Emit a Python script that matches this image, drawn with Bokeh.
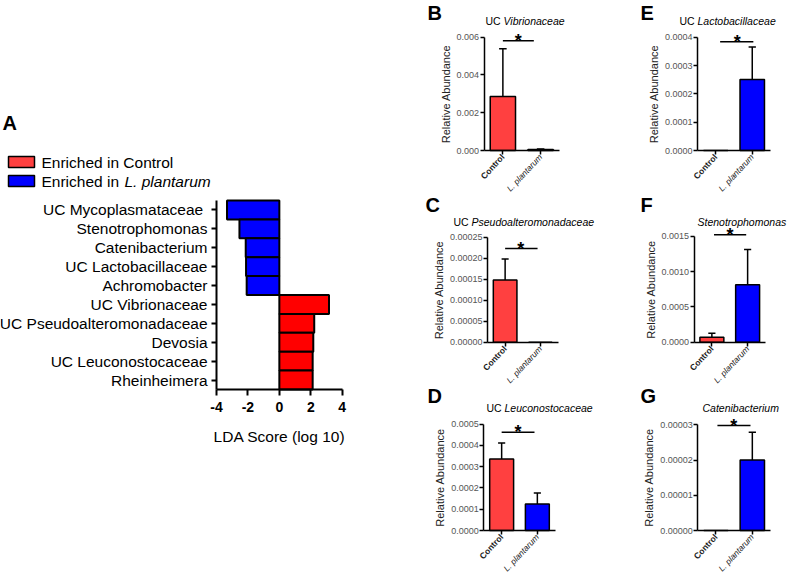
import math
from bokeh.plotting import figure
from bokeh.layouts import row, column
from bokeh.models import (Range1d, FixedTicker, Label, BoxAnnotation, PrintfTickFormatter,
                          LinearAxis)
from bokeh.embed import file_html
from bokeh.resources import INLINE

FONT = "Liberation Sans"

# ---------------- data ----------------
lda_taxa = ["UC Mycoplasmataceae ", "Stenotrophomonas", "Catenibacterium",
            "UC Lactobacillaceae", "Achromobacter", "UC Vibrionaceae",
            "UC Pseudoalteromonadaceae", "Devosia", "UC Leuconostocaceae", "Rheinheimera"]
lda_scores = [-3.33, -2.54, -2.14, -2.12, -2.08, 3.16, 2.22, 2.16, 2.12, 2.12]
lda_ticks = [-4, -2, 0, 2, 4]

groups = ["Control", "L. plantarum"]

vib_mean = [0.00286, 0.00005]
vib_sem = [0.00253, 0.00003]
vib_ticks = [0.0, 0.002, 0.004, 0.006]

pseudo_mean = [0.000148, 0.0]
pseudo_sem = [0.000050, 0.0]
pseudo_ticks = [0.0, 0.00005, 0.00010, 0.00015, 0.00020, 0.00025]

leuco_mean = [0.000336, 0.000125]
leuco_sem = [0.000075, 0.000051]
leuco_ticks = [0.0, 0.0001, 0.0002, 0.0003, 0.0004, 0.0005]

lacto_mean = [0.0, 0.000251]
lacto_sem = [0.0, 0.000114]
lacto_ticks = [0.0, 0.0001, 0.0002, 0.0003, 0.0004]

steno_mean = [0.000071, 0.000813]
steno_sem = [0.000056, 0.000500]
steno_ticks = [0.0, 0.0005, 0.0010, 0.0015]

cateni_mean = [0.0, 0.0000200]
cateni_sem = [0.0, 0.0000079]
cateni_ticks = [0.0, 0.00001, 0.00002, 0.00003]

RED_A = "#FF0000"
RED = "#FF4040"
BLUE = "#0000FF"

BASELINE_FIX = 0.35  # em: lift alphabetic-baseline labels to sit where intended


def make_conv(fl, fr, ft, fb, x0, x1, y_top, y_bot):
    """page pixel -> data coordinate, given where the axes sit on the page"""
    def f(px, py):
        return (x0 + (px - fl) / (fr - fl) * (x1 - x0),
                y_bot + (fb - py) / (fb - ft) * (y_top - y_bot))
    return f


def make_fig(rect, conv):
    fx, fy, fw, fh = rect
    xa0, yb = conv(fx, fy + fh)
    xa1, yt = conv(fx + fw, fy)
    p = figure(width=fw, height=fh, x_range=Range1d(xa0, xa1), y_range=Range1d(yb, yt),
               x_axis_location=None, y_axis_location=None,
               output_backend="svg", toolbar_location=None,
               min_border=0, min_border_left=0, min_border_right=0,
               min_border_top=0, min_border_bottom=0)
    p.outline_line_color = None
    p.xgrid.visible = False
    p.ygrid.visible = False
    p.background_fill_color = "white"
    p.border_fill_color = "white"
    return p


def add_text(p, conv, px, py, text, size, style="normal", color="black", align="left"):
    fs = float(size.replace("px", ""))
    x, y = conv(px, py - BASELINE_FIX * fs)
    p.add_layout(Label(x=x, y=y, text=text, text_font=FONT, text_font_size=size,
                       text_font_style=style, text_color=color, text_align=align,
                       text_baseline="alphabetic"))


# ---------------- panel A ----------------
n = len(lda_taxa)
convA = make_conv(216, 341.7, 200, 389, -4, 4, -0.5, n - 0.5)
pA = make_fig((0, 0, 372, 574), convA)
idx = list(range(n))
colsA = [BLUE if s < 0 else RED_A for s in lda_scores]
pA.hbar(y=idx, left=0, right=lda_scores, height=1.0, fill_color=colsA,
        line_color="black", line_width=2)

xa = LinearAxis(fixed_location=n - 0.5, bounds=(lda_ticks[0], lda_ticks[-1]),
                ticker=FixedTicker(ticks=lda_ticks), formatter=PrintfTickFormatter(format="%d"))
xa.minor_tick_line_color = None
xa.major_tick_out = 6
xa.major_tick_in = 0
xa.major_tick_line_width = 2
xa.axis_line_width = 2
xa.major_label_text_font = FONT
xa.major_label_text_font_size = "14px"
xa.major_label_text_font_style = "bold"
xa.major_label_text_color = "black"
xa.major_label_standoff = 6
xa.axis_label = "LDA Score (log 10)"
xa.axis_label_text_font = FONT
xa.axis_label_text_font_size = "15.5px"
xa.axis_label_text_font_style = "normal"
xa.axis_label_text_color = "black"
xa.axis_label_standoff = 13
pA.add_layout(xa, "below")

ya = LinearAxis(fixed_location=lda_ticks[0], bounds=(-0.5, n - 0.5),
                ticker=FixedTicker(ticks=idx))
ya.major_label_overrides = {i: t for i, t in enumerate(lda_taxa)}
ya.minor_tick_line_color = None
ya.major_tick_out = 5
ya.major_tick_in = 0
ya.major_tick_line_width = 2
ya.axis_line_width = 2
ya.major_label_text_font = FONT
ya.major_label_text_font_size = "15.5px"
ya.major_label_text_color = "black"
ya.major_label_standoff = 4
pA.add_layout(ya, "left")

add_text(pA, convA, 2, 129, "A", "20px", style="bold")
for (top_py, bot_py, col) in [(156, 167, RED), (175, 186, BLUE)]:
    l, t = convA(8, top_py)
    r, b = convA(34, bot_py)
    pA.add_layout(BoxAnnotation(left=l, right=r, top=t, bottom=b, fill_color=col,
                                fill_alpha=1.0, line_color="black", line_width=1.5,
                                line_alpha=1.0))
add_text(pA, convA, 41, 167, "Enriched in Control", "15.5px")
add_text(pA, convA, 41, 186, "Enriched in ", "15.5px")
add_text(pA, convA, 124, 186, "L. plantarum", "15.5px", style="italic")


# ---------------- bar panels ----------------
def bar_panel(rect, ax_px, ymax, ticks, fmt, letter, letter_px, title_parts, title_py,
              means, sems, sig):
    fl, fr, ft, fb = ax_px
    conv = make_conv(fl, fr, ft, fb, -0.5, 1.5, ymax, 0)
    p = make_fig(rect, conv)
    xs = list(range(len(groups)))
    p.vbar(x=xs, bottom=0, top=means, width=0.67, fill_color=[RED, BLUE],
           line_color="black", line_width=1.5)
    ex = [x for x, s in zip(xs, sems) if s > 0]
    em = [m for m, s in zip(means, sems) if s > 0]
    et = [m + s for m, s in zip(means, sems) if s > 0]
    p.segment(x0=ex, y0=em, x1=ex, y1=et, line_color="black", line_width=1.5)
    p.segment(x0=[x - 0.1 for x in ex], y0=et, x1=[x + 0.1 for x in ex], y1=et,
              line_color="black", line_width=1.5)
    sx0, sx1, sy, sxs = sig
    p.segment(x0=[sx0], y0=[sy], x1=[sx1], y1=[sy], line_color="black", line_width=1.5)
    p.add_layout(Label(x=sxs, y=sy, text="*", text_font=FONT, text_font_size="18px",
                       text_font_style="bold", text_align="center", text_color="black",
                       text_baseline="alphabetic", y_offset=0))

    ya = LinearAxis(fixed_location=-0.5, bounds=(0, ymax), ticker=FixedTicker(ticks=ticks),
                    formatter=PrintfTickFormatter(format=fmt))
    ya.minor_tick_line_color = None
    ya.major_tick_out = 4
    ya.major_tick_in = 0
    ya.major_tick_line_width = 1.5
    ya.axis_line_width = 1.5
    ya.major_label_text_font = FONT
    ya.major_label_text_font_size = "9px"
    ya.major_label_text_color = "#555555"
    ya.major_label_standoff = 1
    ya.axis_label = "Relative Abundance"
    ya.axis_label_text_font = FONT
    ya.axis_label_text_font_size = "11px"
    ya.axis_label_text_font_style = "normal"
    ya.axis_label_text_color = "#222222"
    ya.axis_label_standoff = 2
    p.add_layout(ya, "left")

    ang = math.radians(47)
    for i, (g, st) in enumerate(zip(groups, ["bold", "italic"])):
        xa = LinearAxis(fixed_location=0, bounds=(-0.5, 1.5), ticker=FixedTicker(ticks=[xs[i]]))
        xa.major_label_overrides = {xs[i]: g}
        xa.major_label_orientation = ang
        xa.minor_tick_line_color = None
        xa.major_tick_out = 4
        xa.major_tick_in = 0
        xa.major_tick_line_width = 1.5
        xa.axis_line_width = 1.5
        if i > 0:
            xa.axis_line_color = None
        xa.major_label_text_font = FONT
        xa.major_label_text_font_size = "8.5px"
        xa.major_label_text_font_style = st
        xa.major_label_text_color = "#1a1a1a"
        xa.major_label_standoff = 1
        p.add_layout(xa, "below")

    lx, ly = letter_px
    add_text(p, conv, lx, ly, letter, "20px", style="bold")
    for (txt, st, px) in title_parts:
        add_text(p, conv, px, title_py, txt, "10.5px", style=st)
    return p


COL2 = (372, 228)
COL3 = (600, 187)
ROWS = [(0, 194), (194, 192), (386, 188)]

pB = bar_panel((COL2[0], ROWS[0][0], COL2[1], ROWS[0][1]), (483.5, 559, 36.7, 150), 0.006,
               vib_ticks, "%.3f", "B", (427, 19.3),
               [("UC ", "normal", 485), ("Vibrionaceae", "italic", 503)], 24,
               vib_mean, vib_sem, (0.0, 0.82, 0.00581, 0.41))
pC = bar_panel((COL2[0], ROWS[1][0], COL2[1], ROWS[1][1]), (487, 557.5, 236.7, 341.7), 0.00025,
               pseudo_ticks, "%.5f", "C", (425, 211.7),
               [("UC ", "normal", 453), ("Pseudoalteromonadaceae", "italic", 471)], 225,
               pseudo_mean, pseudo_sem, (0.0, 0.92, 0.000223, 0.44))
pD = bar_panel((COL2[0], ROWS[2][0], COL2[1], ROWS[2][1]), (483.3, 554.7, 423.5, 530), 0.0005,
               leuco_ticks, "%.4f", "D", (427, 402.7),
               [("UC ", "normal", 486), ("Leuconostocaceae", "italic", 504)], 411.6,
               leuco_mean, leuco_sem, (0.0, 0.92, 0.000461, 0.46))
pE = bar_panel((COL3[0], ROWS[0][0], COL3[1], ROWS[0][1]), (697, 770, 36.7, 150), 0.0004,
               lacto_ticks, "%.4f", "E", (640, 19.3),
               [("UC ", "normal", 679), ("Lactobacillaceae", "italic", 697)], 24,
               lacto_mean, lacto_sem, (0.12, 1.03, 0.000384, 0.59))
pF = bar_panel((COL3[0], ROWS[1][0], COL3[1], ROWS[1][1]), (693.5, 765, 235.7, 341.7), 0.0015,
               steno_ticks, "%.4f", "F", (640, 211.7),
               [("Stenotrophomonas", "italic", 697)], 225,
               steno_mean, steno_sem, (0.06, 0.96, 0.00152, 0.51))
pG = bar_panel((COL3[0], ROWS[2][0], COL3[1], ROWS[2][1]), (697.3, 770, 424.3, 530), 0.00003,
               cateni_ticks, "%.5f", "G", (640, 402.3),
               [("Catenibacterium", "italic", 702)], 411.6,
               cateni_mean, cateni_sem, (0.04, 0.95, 0.0000298, 0.49))

layout = row(pA, column(pB, pC, pD), column(pE, pF, pG))

with open("out.html", "w") as f:
    f.write(file_html(layout, INLINE))
